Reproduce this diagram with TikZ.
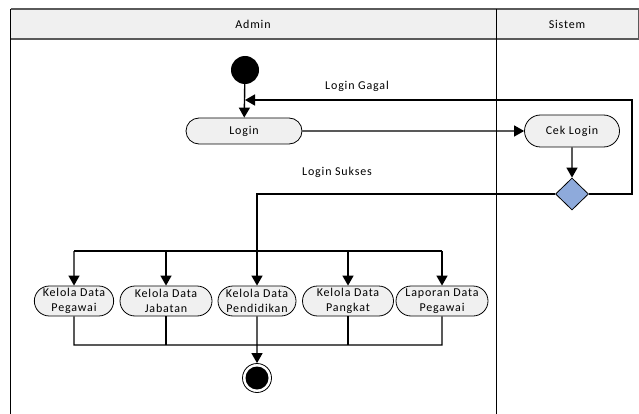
\documentclass[tikz,border=0pt]{standalone}
\usepackage{fontspec}
\setmainfont{Carlito}[LetterSpace=7]
\usetikzlibrary{arrows.meta,shapes.geometric,shapes.misc}
\definecolor{hdr}{HTML}{F0F0F0}
\definecolor{hdrline}{HTML}{5A5A5A}
\definecolor{actfill}{HTML}{F0F0F0}
\definecolor{decfill}{HTML}{8EAADB}
\tikzset{
  act/.style={draw=black, line width=0.8pt, fill=actfill, rounded rectangle, minimum height=26pt, inner sep=1pt, font=\fontsize{12}{15.5}\selectfont, align=center},
  act2/.style={act, minimum height=30pt},
  conn/.style={line width=1.4pt, draw=black},
  arr/.style={conn, -{Triangle[length=10pt,width=11pt]}},
  lbl/.style={font=\fontsize{12}{14}\selectfont, inner sep=0pt},
  frameline/.style={line width=1pt, draw=black},
}
\begin{document}
\begin{tikzpicture}[x=1pt,y=-1pt]
\useasboundingbox (0,0) rectangle (639,414);
% swimlane frame
\fill[hdr] (10.5,9) rectangle (639,39);
\draw[hdrline, line width=1.2pt] (10.5,9) -- (639,9);
\draw[hdrline, line width=1.2pt] (10.5,39) -- (639,39);
\draw[hdrline, line width=0.8pt] (638.5,9) -- (638.5,39);
\draw[frameline] (10.5,9) -- (10.5,414);
\draw[frameline] (496,9) -- (496,414);
\node[lbl] (hadmin) at (253,24) {Admin};
\node[lbl] (hsistem) at (567,24) {Sistem};
% nodes
\node[circle, fill=black, minimum size=28pt, inner sep=0pt] (start) at (245,70) {};
\node[act, minimum width=118pt] (login) at (244,131) {Login};
\node[act, minimum width=97pt, minimum height=32pt] (cek) at (572,131) {Cek Login};
\node[diamond, draw=black, line width=0.8pt, fill=decfill, minimum width=33pt, minimum height=32pt, inner sep=0pt] (dec) at (572,194) {};
\node[act2, minimum width=78pt] (k1) at (74,301) {Kelola Data\\Pegawai};
\node[act2, minimum width=94pt] (k2) at (166,301) {Kelola Data\\Jabatan};
\node[act2, minimum width=80pt] (k3) at (257,301) {Kelola Data\\Pendidikan};
\node[act2, minimum width=93pt] (k4) at (348,301) {Kelola Data\\Pangkat};
\node[act2, minimum width=94pt] (k5) at (442,301) {Laporan Data\\Pegawai};
\node[circle, draw=black, line width=0.8pt, fill=white, minimum size=29pt, inner sep=0pt] (endo) at (257,378) {};
\node[circle, fill=black, minimum size=23pt, inner sep=0pt] (endi) at (257,378) {};
% helper coordinates
\coordinate (gR) at (632,194);
\coordinate (gT) at (632,100);
\coordinate (gL) at (245,100);
\coordinate (sL) at (257,194);
\coordinate (bL) at (74,251);
\coordinate (bR) at (442,251);
\coordinate (b2) at (166,251);
\coordinate (b4) at (348,251);
\coordinate (mL) at (74,345);
\coordinate (mR) at (442,345);
\coordinate (mC) at (257,345);
% connectors
\draw[arr] (start) -- (login);
\draw[arr] (login) -- (cek);
\draw[arr] (cek) -- (dec);
\draw[arr] (dec.east) -- (gR) -- (gT) -- (gL);
\draw[arr] (dec.west) -- (sL) -- (k3);
\draw[conn] (bL) -- (bR);
\draw[arr] (bL) -- (k1);
\draw[arr] (b2) -- (k2);
\draw[arr] (b4) -- (k4);
\draw[arr] (bR) -- (k5);
\draw[conn] (k1) -- (mL) -- (mR) -- (k5);
\draw[conn] (k2) -- (k2 |- mL);
\draw[conn] (k4) -- (k4 |- mL);
\draw[arr] (k3) -- (endo);
\node[lbl] (lgagal) at (357,86) {Login Gagal};
\node[lbl] (lsukses) at (337,172) {Login Sukses};
\end{tikzpicture}
\end{document}
